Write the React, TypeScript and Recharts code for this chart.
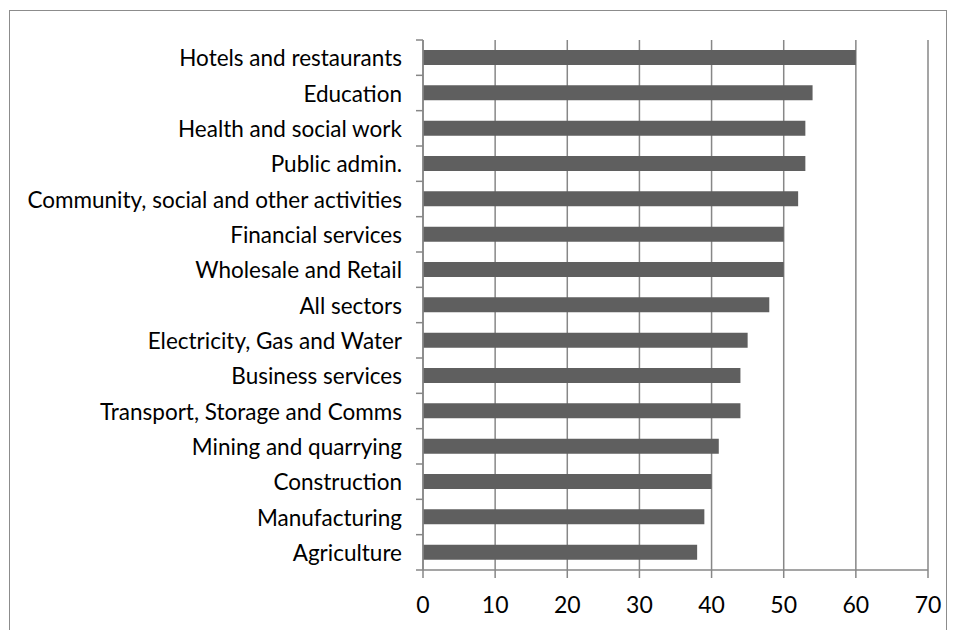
import React from 'react';
import { BarChart, Bar, XAxis, YAxis, CartesianGrid } from 'recharts';

const sectors = [
  'Hotels and restaurants',
  'Education',
  'Health and social work',
  'Public admin.',
  'Community, social and other activities',
  'Financial services',
  'Wholesale and Retail',
  'All sectors',
  'Electricity, Gas and Water',
  'Business services',
  'Transport, Storage and Comms',
  'Mining and quarrying',
  'Construction',
  'Manufacturing',
  'Agriculture',
];

const values = [60, 54, 53, 53, 52, 50, 50, 48, 45, 44, 44, 41, 40, 39, 38];

const xTicks = [0, 10, 20, 30, 40, 50, 60, 70];

const data = sectors.map((name, i) => ({ name, value: values[i] }));

const WIDTH = 958;
const HEIGHT = 630;
const TOP = 40;
const BOTTOM = 60;
const band = (HEIGHT - TOP - BOTTOM) / sectors.length;

const FONT = 'Lato, sans-serif';
const AXIS = '#878787';

function CategoryTick(props: any) {
  const { x, y, payload, index } = props;
  // x arrives offset by tickSize + tickMargin from the axis line
  const ax = x + 8;
  return (
    <g>
      <text
        x={ax - 21}
        y={y}
        textAnchor="end"
        dominantBaseline="central"
        fontFamily={FONT}
        fontSize={22.5}
        fill="#000"
      >
        {payload.value}
      </text>
      {index === 0 && (
        <line x1={ax - 7} x2={ax} y1={y - band / 2} y2={y - band / 2} stroke={AXIS} strokeWidth={1.5} />
      )}
      <line x1={ax - 7} x2={ax} y1={y + band / 2} y2={y + band / 2} stroke={AXIS} strokeWidth={1.5} />
    </g>
  );
}

export default function App() {
  return (
    <div style={{ position: 'absolute', left: 0, top: 0, width: WIDTH, height: HEIGHT, background: '#fff', overflow: 'hidden' }}>
      <div
        style={{
          position: 'absolute',
          left: 9,
          top: 10,
          width: 938,
          height: 660,
          border: '1.5px solid #8c8c8c',
          boxSizing: 'border-box',
        }}
      />
      <BarChart
        width={WIDTH}
        height={HEIGHT}
        data={data}
        layout="vertical"
        margin={{ top: TOP, right: 30, left: 0, bottom: 0 }}
        barSize={15}
      >
        <CartesianGrid horizontal={false} stroke={AXIS} strokeWidth={1.5} />
        <XAxis
          type="number"
          domain={[0, 70]}
          ticks={xTicks}
          interval={0}
          height={BOTTOM}
          axisLine={{ stroke: AXIS, strokeWidth: 1.5 }}
          tickLine={{ stroke: AXIS, strokeWidth: 1.5 }}
          tickSize={8}
          tickMargin={19}
          tick={{ fontFamily: FONT, fontSize: 23, fill: '#000' }}
        />
        <YAxis
          type="category"
          dataKey="name"
          width={423}
          interval={0}
          axisLine={{ stroke: AXIS, strokeWidth: 1.5 }}
          tickLine={false}
          tick={<CategoryTick />}
        />
        <Bar dataKey="value" fill="#5f5f5f" isAnimationActive={false} />
      </BarChart>
    </div>
  );
}
